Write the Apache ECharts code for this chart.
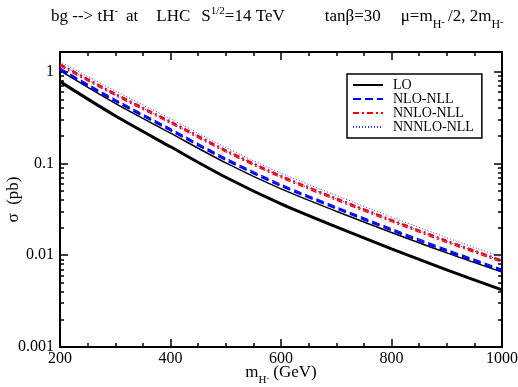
<!DOCTYPE html>
<html>
<head>
<meta charset="utf-8">
<script src="https://cdn.jsdelivr.net/npm/echarts@6/dist/echarts.min.js"></script>
<style>
html, body { margin: 0; padding: 0; background: #fff; }
#chart { width: 518px; height: 387px; }
</style>
</head>
<body>
<div id="chart"></div>
<script>
// charged Higgs mass points (GeV)
var masses = [200, 300, 400, 500, 600, 700, 800, 900, 1000];

// cross sections in pb, two scale choices per order
var loLow    = [0.780, 0.331, 0.152, 0.0708, 0.0363, 0.0204, 0.01175, 0.00692, 0.0042];
var loHigh   = [1.026, 0.452, 0.214, 0.1016, 0.0528, 0.0302, 0.0177, 0.0106, 0.00655];
var nloLow   = [1.052, 0.479, 0.230, 0.1096, 0.0570, 0.0324, 0.01875, 0.01112, 0.00676];
var nloHigh  = [1.096, 0.499, 0.240, 0.1143, 0.0594, 0.0337, 0.01954, 0.01159, 0.00705];
var nnloLow  = [1.153, 0.550, 0.2735, 0.1334, 0.0700, 0.0398, 0.02317, 0.01374, 0.00838];
var nnloHigh = [1.208, 0.575, 0.2864, 0.1396, 0.0733, 0.0417, 0.02427, 0.01439, 0.00877];
var n3loLow  = [1.208, 0.569, 0.283, 0.138, 0.0724, 0.0412, 0.0240, 0.01422, 0.00867];
var n3loHigh = [1.288, 0.617, 0.307, 0.1496, 0.0785, 0.0449, 0.02612, 0.01556, 0.00953];

var yMajor = [0.001, 0.01, 0.1, 1];

var serif = '"Liberation Serif", "DejaVu Serif", serif';

function pairs(ys) {
    return masses.map(function (m, i) { return [m, ys[i]]; });
}

// both y axes share the same fixed log range, so either maps identically
function line(name, ys, yIdx, color, width, dash) {
    return {
        name: name,
        type: 'line',
        symbol: 'none',
        smooth: 0.3,
        xAxisIndex: 0,
        yAxisIndex: yIdx,
        lineStyle: { color: color, width: width, type: dash },
        itemStyle: { color: color },
        data: pairs(ys)
    };
}

function yAx(pos, showLabel) {
    return {
        type: 'log',
        logBase: 10,
        position: pos,
        min: 0.001,
        max: 1.64,
        axisLine: { show: true, onZero: false, lineStyle: { color: '#000', width: 2 } },
        axisTick: { show: true, inside: true, length: 8, lineStyle: { color: '#000', width: 1.5 } },
        minorTick: { show: true, splitNumber: 9, length: 4, lineStyle: { color: '#000', width: 1.5 } },
        axisLabel: {
            show: showLabel,
            customValues: yMajor,
            margin: 6,
            color: '#000',
            fontFamily: serif,
            fontSize: 16,
            formatter: function (v) { return String(+v.toPrecision(3)); }
        },
        splitLine: { show: false }
    };
}

function rich(size, extra) {
    return Object.assign({ fontFamily: serif, fontSize: size, fontWeight: 'normal', color: '#000' }, extra);
}

var chart = echarts.init(document.getElementById('chart'));

chart.setOption({
    animation: false,
    backgroundColor: '#fff',
    title: {
        left: 46,
        top: 1,
        text: '{t|bg --> tH}{sp|-}{g8| }{t|at}{g18| }{t|LHC}{g11| }{t|S}{sp|1/2}{t|=14 TeV}{g40| }{t|tan\u03b2=30}{g20| }{t|\u03bc=m}{sb|H}{sp2|-}{t|/2, 2m}{sb|H}{sp2|-}',
        textStyle: {
            fontWeight: 'normal',
            rich: {
                t:   rich(17, { lineHeight: 22 }),
                sp:  rich(11, { lineHeight: 11, verticalAlign: 'top' }),
                sb:  rich(12, { lineHeight: 11, verticalAlign: 'bottom', padding: [0, 0, -3, 0] }),
                sp2: rich(11, { lineHeight: 15, verticalAlign: 'bottom', padding: [0, 3, 0, 0] }),
                g8:  rich(17, { width: 8 }),
                g11: rich(17, { width: 11 }),
                g18: rich(17, { width: 18 }),
                g20: rich(17, { width: 20 }),
                g40: rich(17, { width: 40 })
            }
        }
    },
    legend: {
        orient: 'vertical',
        left: 347,
        top: 74,
        padding: [4, 8, 4, 5],
        borderColor: '#000',
        borderWidth: 1.5,
        itemWidth: 30,
        itemHeight: 14,
        itemGap: 0,
        itemStyle: { opacity: 0 },
        textStyle: { fontFamily: serif, fontSize: 14, color: '#000', padding: [0, 0, 0, 5] },
        data: ['LO', 'NLO-NLL', 'NNLO-NLL', 'NNNLO-NLL']
    },
    grid: { left: 60, right: 16, top: 52, bottom: 40, containLabel: false, outerBoundsMode: 'none' },
    xAxis: [{
        type: 'value',
        position: 'bottom',
        min: 200,
        max: 1000,
        interval: 200,
        name: '{m|m}{sb|H}{sp|-}{t| (GeV)}',
        nameLocation: 'middle',
        nameGap: 16,
        nameMoveOverlap: false,
        nameTextStyle: {
            verticalAlign: 'top',
            rich: {
                m:  rich(17, { lineHeight: 20 }),
                t:  rich(17, { lineHeight: 20 }),
                sb: rich(11, { lineHeight: 10, verticalAlign: 'bottom', padding: [0, 0, -3, 0] }),
                sp: rich(8, { lineHeight: 14, verticalAlign: 'bottom' })
            }
        },
        axisLine: { onZero: false, lineStyle: { color: '#000', width: 2 } },
        axisTick: { inside: true, length: 8, lineStyle: { color: '#000', width: 1.5 } },
        minorTick: { show: true, splitNumber: 4, length: 4, lineStyle: { color: '#000', width: 1.5 } },
        axisLabel: { margin: 4, color: '#000', fontFamily: serif, fontSize: 16, formatter: function (v) { return String(v); } },
        splitLine: { show: false }
    }, {
        type: 'value',
        position: 'top',
        min: 200,
        max: 1000,
        interval: 200,
        axisLine: { onZero: false, lineStyle: { color: '#000', width: 2 } },
        axisTick: { inside: true, length: 8, lineStyle: { color: '#000', width: 1.5 } },
        minorTick: { show: true, splitNumber: 4, length: 4, lineStyle: { color: '#000', width: 1.5 } },
        axisLabel: { show: false },
        splitLine: { show: false }
    }],
    yAxis: [
        Object.assign(yAx('left', true), {
            name: '\u03c3  (pb)',
            nameLocation: 'middle',
            nameGap: 38,
            nameMoveOverlap: false,
            nameRotate: 90,
            nameTextStyle: { fontFamily: serif, fontSize: 17, color: '#000' }
        }),
        yAx('right', false)
    ],
    series: [
        line('LO', loLow, 0, '#000', 3, 'solid'),
        line('LO', loHigh, 1, '#000', 1.5, 'solid'),
        line('NLO-NLL', nloLow, 0, '#0000ff', 2.2, [8, 4]),
        line('NLO-NLL', nloHigh, 1, '#0000ff', 1.2, [8, 4]),
        line('NNLO-NLL', nnloLow, 0, '#ff0000', 1.2, [6, 3, 2, 3]),
        line('NNLO-NLL', nnloHigh, 1, '#ff0000', 2.2, [6, 3, 2, 3]),
        line('NNNLO-NLL', n3loLow, 0, '#3333ff', 1, [1, 2]),
        line('NNNLO-NLL', n3loHigh, 1, '#3333ff', 1, [1, 2])
    ]
});
</script>
</body>
</html>
